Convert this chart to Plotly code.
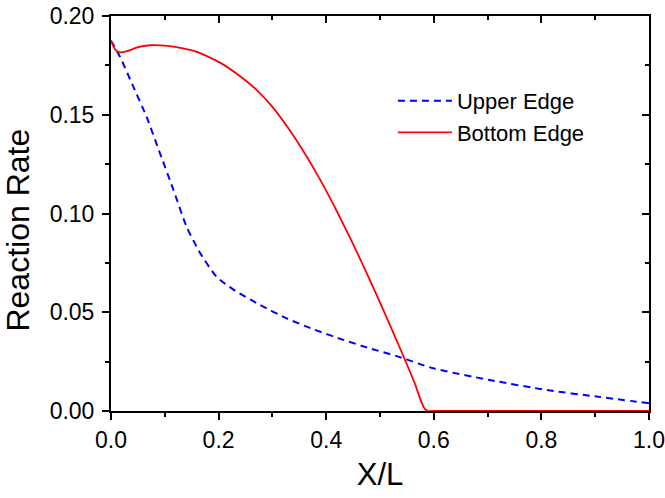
import plotly.graph_objects as go

# Bottom Edge (red, solid)
bottom_x = [0.0, 0.008, 0.0167, 0.03, 0.05, 0.0725, 0.10, 0.134, 0.16, 0.2026, 0.24, 0.271,
            0.30, 0.33, 0.36, 0.39, 0.42, 0.45, 0.48, 0.51, 0.54, 0.565, 0.577, 0.583,
            0.589, 0.60, 0.70, 0.80, 0.90, 1.0]
bottom_y = [0.1875, 0.1830, 0.1816, 0.1822, 0.1842, 0.1852, 0.1850, 0.1836, 0.1818, 0.1764,
            0.1695, 0.1625, 0.1540, 0.1430, 0.1305, 0.1165, 0.1010, 0.0845, 0.0670, 0.0488,
            0.0300, 0.0137, 0.0045, 0.0012, 0.0, 0.0, 0.0, 0.0, 0.0, 0.0]

# Upper Edge (blue, dashed)
upper_x = [0.0, 0.0167, 0.0415, 0.066, 0.091, 0.116, 0.1405, 0.165, 0.196, 0.227, 0.277,
           0.3265, 0.376, 0.432, 0.481, 0.531, 0.599, 0.704, 0.81, 0.903, 1.0]
upper_y = [0.1875, 0.1794, 0.1642, 0.1490, 0.1305, 0.1120, 0.0933, 0.0803, 0.0680, 0.0616,
           0.0537, 0.0469, 0.0414, 0.0360, 0.0317, 0.0278, 0.0216, 0.0157, 0.0106, 0.0073,
           0.0039]

x_ticks = [0.0, 0.2, 0.4, 0.6, 0.8, 1.0]
x_tick_labels = ["0.0", "0.2", "0.4", "0.6", "0.8", "1.0"]
y_ticks = [0.0, 0.05, 0.10, 0.15, 0.20]
y_tick_labels = ["0.00", "0.05", "0.10", "0.15", "0.20"]

FONT = "Liberation Sans, Arial, sans-serif"

fig = go.Figure()
fig.add_trace(go.Scatter(x=upper_x, y=upper_y, mode="lines", name="Upper Edge",
                         line=dict(color="#0000FF", width=2, dash="7px,5px", shape="spline", smoothing=0.6)))
fig.add_trace(go.Scatter(x=bottom_x, y=bottom_y, mode="lines", name="Bottom Edge",
                         line=dict(color="#FF0000", width=1.8, shape="spline", smoothing=0.6)))
# transparent copy on the mirrored axes so the top/right tick marks get drawn
fig.add_trace(go.Scatter(x=upper_x, y=upper_y, xaxis="x2", yaxis="y2", mode="lines",
                         line=dict(color="rgba(0,0,0,0)", width=0), opacity=0,
                         showlegend=False, hoverinfo="skip"))

axis_common = dict(showgrid=False, zeroline=False, showline=True, linecolor="black", linewidth=2,
                   tickcolor="black", tickwidth=1.5, automargin=False)

fig.update_layout(
    width=665, height=498,
    margin=dict(l=111, r=16, t=16, b=87),
    plot_bgcolor="white", paper_bgcolor="white",
    font=dict(family=FONT, color="black"),
    showlegend=True,
    legend=dict(x=0.524, y=0.838, xanchor="left", yanchor="top", bgcolor="rgba(0,0,0,0)",
                font=dict(size=22, family=FONT), itemwidth=54, tracegroupgap=0),
    xaxis=dict(range=[0, 1.0], tickvals=x_ticks, ticktext=x_tick_labels, ticks="outside", ticklen=7,
               minor=dict(dtick=0.1, tick0=0, ticks="outside", ticklen=4, tickcolor="black", tickwidth=1.5),
               tickfont=dict(size=23), title=dict(text="X/L", font=dict(size=31), standoff=12),
               **axis_common),
    yaxis=dict(range=[0, 0.20], tickvals=y_ticks, ticktext=y_tick_labels, ticks="outside", ticklen=7,
               ticklabelstandoff=3,
               minor=dict(dtick=0.025, tick0=0, ticks="outside", ticklen=4, tickcolor="black", tickwidth=1.5),
               tickfont=dict(size=23), **axis_common),
    xaxis2=dict(range=[0, 1.0], overlaying="x", anchor="y", side="top",
                tickmode="array", tickvals=x_ticks, ticks="inside", ticklen=7, showticklabels=False,
                minor=dict(dtick=0.1, tick0=0, ticks="inside", ticklen=4, tickcolor="black", tickwidth=1.5),
                **axis_common),
    yaxis2=dict(range=[0, 0.20], overlaying="y", anchor="x", side="right",
                tickmode="array", tickvals=y_ticks, ticks="inside", ticklen=7, showticklabels=False,
                minor=dict(dtick=0.025, tick0=0, ticks="inside", ticklen=4, tickcolor="black", tickwidth=1.5),
                **axis_common),
    annotations=[dict(text="Reaction Rate", textangle=-90, xref="paper", yref="paper",
                      x=-0.172, y=0.458, xanchor="center", yanchor="middle", showarrow=False,
                      font=dict(size=32, family=FONT))],
)

fig.write_html("out.html")
